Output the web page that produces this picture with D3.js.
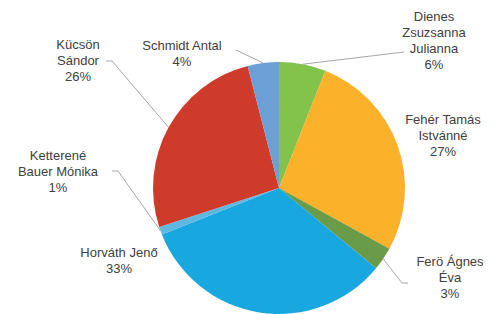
<!doctype html>
<html lang="hu">
<head>
  <meta charset="utf-8">
  <title>Megoszlás</title>
  <style>
    body { margin: 0; background: #fff; }
    svg { display: block; }
    .lbl { font-family: "Liberation Sans", Arial, sans-serif; font-size: 13px; fill: #404040; }
    .leader { fill: none; stroke: #a6a6a6; stroke-width: 1; }
  </style>
</head>
<body>
<div id="chart"></div>
<script src="https://cdn.jsdelivr.net/npm/d3@7"></script>
<script>
// data
var names = ["Dienes Zsuzsanna Julianna", "Fehér Tamás Istvánné", "Ferö Ágnes Éva",
             "Horváth Jenő", "Ketterené Bauer Mónika", "Kücsön Sándor", "Schmidt Antal"];
var values = [6, 27, 3, 33, 1, 26, 4];
var colors = ["#82c34c", "#fbb12a", "#6a9b48", "#19a7e0", "#5fb8e0", "#cf3b2b", "#6b9fd6"];
// label text lines (as printed in the chart)
var labelLines = [
  ["Dienes", "Zsuzsanna", "Julianna"],
  ["Fehér Tamás", "Istvánné"],
  ["Ferö Ágnes", "Éva"],
  ["Horváth Jenő"],
  ["Ketterené", "Bauer Mónika"],
  ["Kücsön", "Sándor"],
  ["Schmidt Antal"]
];

(function(){
  var width = 500, height = 314;
  var cx = 279, cy = 188, r = 126;
  var lineH = 16;

  // where each label block sits (center x, first baseline y) and the leader's far end
  var labelPos = [
    {x: 434, y: 21, lead: [[404, 52]]},
    {x: 443, y: 124},
    {x: 450, y: 266, lead: [[402, 283], [408, 283]]},
    {x: 119, y: 257},
    {x: 58,  y: 160, lead: [[118, 171], [112, 171]]},
    {x: 78,  y: 49,  lead: [[112, 61], [106, 61]]},
    {x: 182, y: 50,  lead: [[236, 50]]}
  ];

  var svg = d3.select("#chart").append("svg")
      .attr("width", width)
      .attr("height", height);

  var pie = d3.pie().sort(null).value(function(d){ return d; });
  var arcs = pie(values);
  var arc = d3.arc().innerRadius(0).outerRadius(r);
  var edge = d3.arc().innerRadius(r).outerRadius(r);

  var g = svg.append("g").attr("transform", "translate(" + cx + "," + cy + ")");
  g.selectAll("path.slice")
    .data(arcs)
    .enter().append("path")
      .attr("class", "slice")
      .attr("d", arc)
      .attr("fill", function(d, i){ return colors[i]; });

  // leader lines
  var line = d3.line();
  arcs.forEach(function(a, i){
    var p = labelPos[i];
    if (!p.lead) return;
    var c = edge.centroid(a);
    var pts = [[c[0] + cx, c[1] + cy]].concat(p.lead);
    svg.append("path").attr("class", "leader").attr("d", line(pts));
  });

  // labels
  arcs.forEach(function(a, i){
    var p = labelPos[i];
    var t = svg.append("text").attr("class", "lbl").attr("text-anchor", "middle");
    var lines = labelLines[i].concat([values[i] + "%"]);
    lines.forEach(function(s, k){
      t.append("tspan").attr("x", p.x).attr("y", p.y + k * lineH).text(s);
    });
  });
})();
</script>
</body>
</html>
